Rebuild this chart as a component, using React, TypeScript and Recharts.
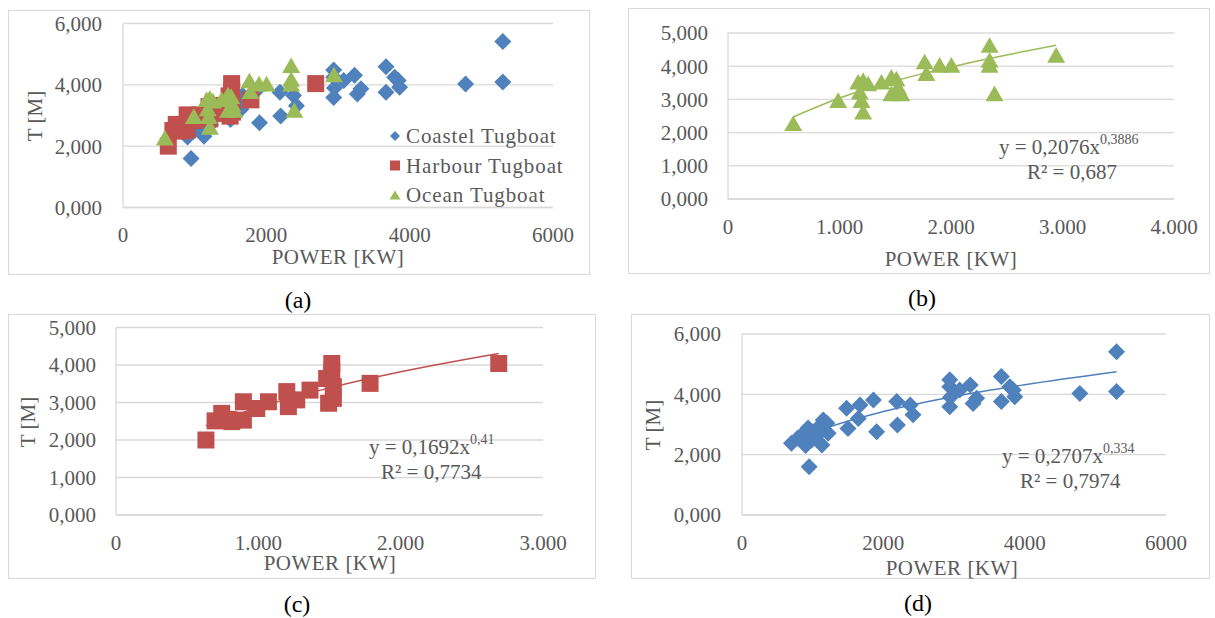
import { CartesianGrid, ComposedChart, Line, Scatter, XAxis, YAxis } from "recharts"

const FONT = '"Liberation Serif", "DejaVu Serif", serif'
const TEXT = "#595959"
const GRID = "#d9d9d9"
const BLUE = "#4f81bd"
const RED = "#c0504d"
const GREEN = "#9bbb59"

// Coastel tugboats (power kW, T m)
const coastPower = [700, 790, 845, 900, 935, 950, 985, 1000, 1050, 1100, 1130, 1150, 1200, 1220, 1480, 1500, 1645, 1670, 1860, 1905, 2190, 2200, 2380, 2420, 2940, 2940, 2940, 2950, 3080, 3230, 3270, 3320, 3670, 3670, 3790, 3840, 3860, 4780, 5300, 5300]
const coastT = [2.38, 2.55, 2.65, 2.3, 2.88, 1.6, 2.49, 2.75, 2.6, 2.95, 2.32, 3.15, 3.05, 2.71, 3.54, 2.87, 3.2, 3.65, 3.81, 2.76, 3.76, 2.98, 3.65, 3.32, 4.48, 4.25, 3.59, 3.9, 4.14, 4.31, 3.7, 3.87, 4.59, 3.76, 4.25, 4.14, 3.92, 4.03, 5.41, 4.09]

// Harbour tugboats
const harbourPower = [632, 696, 743, 790, 813, 895, 895, 989, 1071, 1200, 1211, 1270, 1363, 1480, 1494, 1516, 1516, 1527, 1527, 1785, 2689]
const harbourT = [2.0, 2.51, 2.71, 2.55, 2.49, 3.02, 2.53, 2.84, 3.02, 3.29, 2.89, 3.07, 3.33, 3.64, 2.98, 4.04, 3.82, 3.42, 3.11, 3.51, 4.04]

// Ocean tugboats
const oceanPower = [585, 988, 1167, 1182, 1197, 1212, 1212, 1257, 1376, 1465, 1465, 1510, 1525, 1555, 1764, 1779, 1898, 2003, 2346, 2346, 2346, 2390, 2943]
const oceanT = [2.28, 2.98, 3.53, 3.23, 2.98, 3.58, 2.63, 3.48, 3.53, 3.68, 3.18, 3.63, 3.38, 3.18, 4.14, 3.79, 4.04, 4.04, 4.64, 4.04, 4.19, 3.18, 4.34]

// trend lines (b), (c), (d)
const oceanTrendPower = [585, 1000, 1500, 2000, 2500, 2943]
const oceanTrendT = [2.47, 3.04, 3.56, 3.98, 4.34, 4.63]
const harbourTrendPower = [632, 1000, 1500, 2000, 2689]
const harbourTrendT = [2.38, 2.87, 3.39, 3.82, 4.31]
const coastTrendPower = [700, 1000, 2000, 3000, 4000, 5300]
const coastTrendT = [2.41, 2.72, 3.43, 3.93, 4.32, 4.75]

const ticks6000 = [0, 2000, 4000, 6000]
const ticks4000 = [0, 1000, 2000, 3000, 4000]
const ticks3000 = [0, 1000, 2000, 3000]
const tTicks6 = [0, 2, 4, 6]
const tTicks5 = [0, 1, 2, 3, 4, 5]

type Pt = { x: number; y: number }
const pts = (xs: number[], ys: number[]): Pt[] => xs.map((x, i) => ({ x, y: ys[i] }))

const coast = pts(coastPower, coastT)
const harbour = pts(harbourPower, harbourT)
const ocean = pts(oceanPower, oceanT)

const fmtT = (v: number) => v.toFixed(3).replace(".", ",")
const fmtPlain = (v: number) => String(v)
const fmtDot = (v: number) => (v === 0 ? "0" : (v / 1000).toFixed(3))

type ShapeKind = "diamond" | "square" | "triangle"

function Marker({ kind, cx, cy, fill, s = 8.5 }: { kind: ShapeKind; cx: number; cy: number; fill: string; s?: number }) {
  if (cx == null || cy == null) return null
  if (kind === "diamond") {
    return <path d={`M${cx} ${cy - s}L${cx + s} ${cy}L${cx} ${cy + s}L${cx - s} ${cy}Z`} fill={fill} />
  }
  if (kind === "square") {
    return <rect x={cx - s} y={cy - s} width={s * 2} height={s * 2} fill={fill} />
  }
  const h = s * 0.92
  return <path d={`M${cx} ${cy - h}L${cx + s + 0.5} ${cy + h}L${cx - s - 0.5} ${cy + h}Z`} fill={fill} />
}

interface Series {
  data: Pt[]
  color: string
  kind: ShapeKind
}

interface PanelProps {
  box: [number, number, number, number]
  plot: [number, number, number, number]
  xMax: number
  xTicks: number[]
  xFmt: (v: number) => string
  yMax: number
  yTicks: number[]
  yGap: number
  series: Series[]
  trend?: { data: Pt[]; color: string }
}

const tickStyle = { fill: TEXT, fontSize: 21, fontFamily: FONT }

function Panel({ box, plot, xMax, xTicks, xFmt, yMax, yTicks, yGap, series, trend }: PanelProps) {
  const [bl, bt, br, bb] = box
  const [pl, pt, pr, pb] = plot
  const w = br - bl
  const h = bb - bt
  const yW = 60
  const xH = 40
  return (
    <div
      style={{
        position: "absolute",
        left: bl,
        top: bt,
        width: w,
        height: h,
        border: `1px solid ${GRID}`,
        boxSizing: "border-box",
      }}
    >
      <div style={{ position: "absolute", left: -1, top: -1 }}>
        <ComposedChart
          width={w}
          height={h}
          margin={{ left: pl - bl - yW, top: pt - bt, right: br - pr, bottom: bb - pb - xH }}
        >
          <CartesianGrid vertical={false} stroke={GRID} strokeWidth={1.3} />
          <XAxis
            type="number"
            dataKey="x"
            domain={[0, xMax]}
            ticks={xTicks}
            interval={0}
            tickFormatter={xFmt}
            tick={tickStyle}
            axisLine={{ stroke: GRID, strokeWidth: 1.3 }}
            tickLine={false}
            tickSize={0}
            tickMargin={20}
            height={xH}
            allowDataOverflow
          />
          <YAxis
            type="number"
            dataKey="y"
            domain={[0, yMax]}
            ticks={yTicks}
            interval={0}
            tickFormatter={fmtT}
            tick={tickStyle}
            axisLine={{ stroke: GRID, strokeWidth: 1.3 }}
            tickLine={false}
            tickSize={0}
            tickMargin={yGap}
            width={yW}
            allowDataOverflow
          />
          {series.map((s, i) => (
            <Scatter
              key={i}
              data={s.data}
              fill={s.color}
              isAnimationActive={false}
              shape={(p: any) => <Marker kind={s.kind} cx={p.cx} cy={p.cy} fill={s.color} />}
            />
          ))}
          {trend && (
            <Line
              data={trend.data}
              dataKey="y"
              type="monotone"
              stroke={trend.color}
              strokeWidth={1.5}
              dot={false}
              activeDot={false}
              isAnimationActive={false}
            />
          )}
        </ComposedChart>
      </div>
    </div>
  )
}

function Eq({ x, y, coef, exp, r2, r2x }: { x: number; y: number; coef: string; exp: string; r2: string; r2x: number }) {
  return (
    <g fill={TEXT} fontFamily={FONT} fontSize={21}>
      <text x={x} y={y} dominantBaseline="central">
        {`y = ${coef}x`}
        <tspan fontSize={14} dy={-8}>
          {exp}
        </tspan>
      </text>
      <text x={r2x} y={y + 25} dominantBaseline="central">
        {`R² = ${r2}`}
      </text>
    </g>
  )
}

const legendItems: { label: string; kind: ShapeKind; color: string; y: number }[] = [
  { label: "Coastel Tugboat", kind: "diamond", color: BLUE, y: 136 },
  { label: "Harbour Tugboat", kind: "square", color: RED, y: 165.5 },
  { label: "Ocean Tugboat", kind: "triangle", color: GREEN, y: 195 },
]

export default function App() {
  return (
    <div style={{ position: "absolute", left: 0, top: 0, width: 1215, height: 618, background: "#fff" }}>
      <Panel
        box={[8, 10, 590, 275]}
        plot={[123, 23.5, 553, 207.5]}
        xMax={6000}
        xTicks={ticks6000}
        xFmt={fmtPlain}
        yMax={6}
        yTicks={tTicks6}
        yGap={21}
        series={[
          { data: coast, color: BLUE, kind: "diamond" },
          { data: harbour, color: RED, kind: "square" },
          { data: ocean, color: GREEN, kind: "triangle" },
        ]}
      />
      <Panel
        box={[628, 8, 1210, 274]}
        plot={[728, 33, 1174, 199]}
        xMax={4000}
        xTicks={ticks4000}
        xFmt={fmtDot}
        yMax={5}
        yTicks={tTicks5}
        yGap={20}
        series={[{ data: ocean, color: GREEN, kind: "triangle" }]}
        trend={{ data: pts(oceanTrendPower, oceanTrendT), color: GREEN }}
      />
      <Panel
        box={[8, 314, 596, 579]}
        plot={[116, 327.5, 543, 515]}
        xMax={3000}
        xTicks={ticks3000}
        xFmt={fmtDot}
        yMax={5}
        yTicks={tTicks5}
        yGap={20}
        series={[{ data: harbour, color: RED, kind: "square" }]}
        trend={{ data: pts(harbourTrendPower, harbourTrendT), color: RED }}
      />
      <Panel
        box={[631, 314, 1210, 579]}
        plot={[742, 334, 1166, 515]}
        xMax={6000}
        xTicks={ticks6000}
        xFmt={fmtPlain}
        yMax={6}
        yTicks={tTicks6}
        yGap={21}
        series={[{ data: coast, color: BLUE, kind: "diamond" }]}
        trend={{ data: pts(coastTrendPower, coastTrendT), color: BLUE }}
      />

      <svg
        width={1215}
        height={618}
        style={{ position: "absolute", left: 0, top: 0, pointerEvents: "none" }}
      >
        <g fill={TEXT} fontFamily={FONT} fontSize={21} textAnchor="middle">
          <text x={338} y={257} dominantBaseline="central" letterSpacing={0.5}>POWER [KW]</text>
          <text x={951} y={259} dominantBaseline="central" letterSpacing={0.5}>POWER [KW]</text>
          <text x={330} y={563} dominantBaseline="central" letterSpacing={0.5}>POWER [KW]</text>
          <text x={952} y={568} dominantBaseline="central" letterSpacing={0.5}>POWER [KW]</text>
          <text transform="translate(35 116) rotate(-90)" dominantBaseline="central">T [M]</text>
          <text transform="translate(28 422) rotate(-90)" dominantBaseline="central">T [M]</text>
          <text transform="translate(653 425) rotate(-90)" dominantBaseline="central">T [M]</text>
        </g>

        {legendItems.map((it) => (
          <g key={it.label}>
            <Marker kind={it.kind} cx={395} cy={it.y} fill={it.color} s={5} />
            <text
              x={406}
              y={it.y}
              fill={TEXT}
              fontFamily={FONT}
              fontSize={21}
              letterSpacing={0.9}
              dominantBaseline="central"
            >
              {it.label}
            </text>
          </g>
        ))}

        <Eq x={999} y={147} coef="0,2076" exp="0,3886" r2="0,687" r2x={1027} />
        <Eq x={369} y={447} coef="0,1692" exp="0,41" r2="0,7734" r2x={381} />
        <Eq x={1002} y={456} coef="0,2707" exp="0,334" r2="0,7974" r2x={1020} />

        <g fill="#000" fontFamily={FONT} fontSize={24} textAnchor="middle">
          <text x={298} y={300} dominantBaseline="central">(a)</text>
          <text x={922} y={298} dominantBaseline="central">(b)</text>
          <text x={297} y={604} dominantBaseline="central">(c)</text>
          <text x={918} y={603} dominantBaseline="central">(d)</text>
        </g>
      </svg>
    </div>
  )
}
